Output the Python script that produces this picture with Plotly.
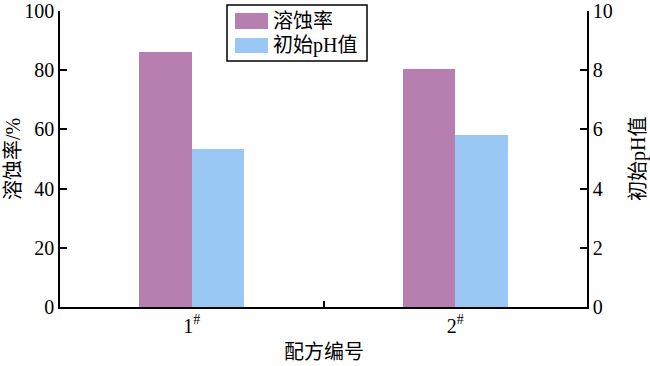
import plotly.graph_objects as go

categories = ["1#", "2#"]
tick_labels = ["1<sup>#</sup>", "2<sup>#</sup>"]
dissolution_rate = [86.1, 80.4]   # 溶蚀率 /%  (left axis)
initial_ph = [5.33, 5.81]         # 初始pH值 (right axis)
series_names = ["溶蚀率", "初始pH值"]
colors = ["#B77FAF", "#99C8F5"]
x_title = "配方编号"
y_title = "溶蚀率/%"
y2_title = "初始pH值"

FONT = "Liberation Serif, Noto Sans CJK SC, serif"
W, H = 650, 366
L, R, T, B = 60, 63, 11, 59
pw, ph = W - L - R, H - T - B

def px(x):
    return (x - L) / pw

def py(y):
    return (H - B - y) / ph

fig = go.Figure()
fig.add_trace(go.Bar(x=categories, y=dissolution_rate, name=series_names[0],
                     marker=dict(color=colors[0], line=dict(width=0)),
                     width=0.2, offset=-0.2, yaxis="y", showlegend=False))
fig.add_trace(go.Bar(x=categories, y=initial_ph, name=series_names[1],
                     marker=dict(color=colors[1], line=dict(width=0)),
                     width=0.2, offset=0.0, yaxis="y2", showlegend=False))
# invisible trace to drive the separator tick axis
fig.add_trace(go.Scatter(x=[0.5], y=[0], xaxis="x2", yaxis="y", mode="markers",
                         marker=dict(opacity=0), showlegend=False, hoverinfo="skip"))

axis_common = dict(showgrid=False, zeroline=False, showline=True, linecolor="black",
                   linewidth=1.5, ticks="inside", tickcolor="black", tickwidth=1.5,
                   ticklen=7, automargin=False,
                   tickfont=dict(family=FONT, size=20, color="black"))

fig.update_layout(
    width=W, height=H,
    margin=dict(l=L, r=R, t=T, b=B, pad=0, autoexpand=False),
    plot_bgcolor="white", paper_bgcolor="white",
    font=dict(family=FONT, color="black"),
    xaxis=dict(type="category", range=[-0.5, 1.5], tickmode="array",
               tickvals=categories, ticktext=tick_labels, ticks="", showgrid=False,
               showline=True, linecolor="black", linewidth=1.5, automargin=False,
               tickfont=dict(family=FONT, size=20, color="black")),
    xaxis2=dict(overlaying="x", range=[-0.5, 1.5], tickvals=[0.5], showticklabels=False,
                ticks="inside", ticklen=6, tickwidth=1.5, tickcolor="black",
                showgrid=False, zeroline=False, showline=False, anchor="y", side="bottom",
                automargin=False),
    yaxis=dict(range=[0, 100], tickvals=[0, 20, 40, 60, 80, 100], **axis_common),
    yaxis2=dict(range=[0, 10], tickvals=[0, 2, 4, 6, 8, 10], overlaying="y", side="right",
                **axis_common),
    bargap=0,
)

# axis titles
title_font = dict(family=FONT, size=20, color="black")
fig.add_annotation(xref="paper", yref="paper", x=px(13), y=0.5, text=y_title,
                   textangle=-90, showarrow=False, xanchor="center", yanchor="middle",
                   font=title_font)
fig.add_annotation(xref="paper", yref="paper", x=px(638), y=0.5, text=y2_title,
                   textangle=-90, showarrow=False, xanchor="center", yanchor="middle",
                   font=title_font)
fig.add_annotation(xref="paper", yref="paper", x=0.5, y=py(352), text=x_title,
                   showarrow=False, xanchor="center", yanchor="middle", font=title_font)

# legend box drawn in paper coordinates
fig.add_shape(type="rect", xref="paper", yref="paper",
              x0=px(227), x1=px(367), y0=py(61), y1=py(5),
              line=dict(color="black", width=1.5), fillcolor="white", layer="above")
rows = [(13, 29), (38, 53)]
for (y0, y1), name, c in zip(rows, series_names, colors):
    fig.add_shape(type="rect", xref="paper", yref="paper",
                  x0=px(235), x1=px(268), y0=py(y1), y1=py(y0),
                  line=dict(width=0), fillcolor=c, layer="above")
    fig.add_annotation(xref="paper", yref="paper", x=px(271), y=py((y0 + y1) / 2),
                       text=name, showarrow=False, xanchor="left", yanchor="middle",
                       font=dict(family=FONT, size=20, color="black"))

fig.write_html("out.html", config={"displayModeBar": False},
               post_script="document.body.style.margin='0';")
